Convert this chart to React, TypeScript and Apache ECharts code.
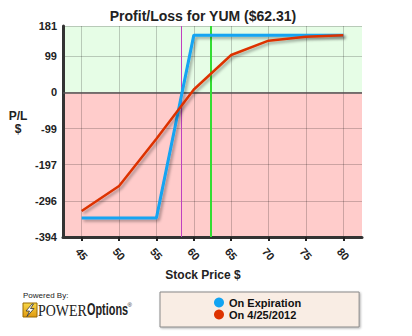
import React, { useEffect, useRef } from "react";
import * as echarts from "echarts";

const strikes = [45, 50, 55, 60, 65, 70, 75, 80];
const expirationPL = [-342, -342, -342, 156, 156, 156, 156, 156];
const todayPL = [-323, -255, -126, 8, 102, 141, 152, 156];
const xTicks = [45, 50, 55, 60, 65, 70, 75, 80];
const yTicks = [-394, -296, -197, -99, 0, 99, 181];
const breakevenLine = 58.3;
const currentPriceLine = 62.2;
const seriesNames = ["On Expiration", "On 4/25/2012"];

const FONT = "'Liberation Sans', Arial, sans-serif";

export default function App() {
  const ref = useRef<HTMLDivElement>(null);
  useEffect(() => {
    if (!ref.current) return;
    const chart = echarts.init(ref.current, undefined, { renderer: "svg" });
    const shadow = {
      shadowColor: "rgba(0,0,0,0.35)",
      shadowBlur: 3,
      shadowOffsetX: 2,
      shadowOffsetY: 2,
    };
    chart.setOption({
      animation: false,
      textStyle: { fontFamily: FONT },
      grid: { left: 63, right: 50, top: 26, bottom: 99, containLabel: false },
      xAxis: {
        type: "value",
        min: 42.5,
        max: 82.5,
        z: 3,
        axisLine: { show: true, onZero: false, lineStyle: { color: "#333", width: 3 } },
        axisTick: {
          show: true,
          customValues: xTicks,
          length: 4,
          lineStyle: { color: "#222", width: 2 },
        },
        axisLabel: {
          customValues: xTicks,
          rotate: -50,
          align: "center",
          verticalAlign: "middle",
          margin: 17,
          fontSize: 11,
          fontWeight: "bold",
          color: "#222",
          fontFamily: FONT,
        },
        splitLine: { show: true, lineStyle: { color: "rgba(0,0,0,0.2)", width: 1 } },
      },
      yAxis: {
        type: "value",
        min: -394,
        max: 181,
        z: 3,
        axisLine: { show: true, onZero: false, lineStyle: { color: "#333", width: 3 } },
        axisTick: { show: false, customValues: yTicks },
        axisLabel: {
          customValues: yTicks,
          margin: 6,
          fontSize: 11,
          fontWeight: "bold",
          color: "#222",
          fontFamily: FONT,
          formatter: (v: number) => String(v),
        },
        splitLine: { show: true, lineStyle: { color: "rgba(0,0,0,0.2)", width: 1 } },
      },
      legend: {
        data: seriesNames,
        orient: "vertical",
        left: 160,
        top: 292,
        padding: [5, 58, 7, 54],
        itemWidth: 10,
        itemHeight: 10,
        itemGap: 1,
        icon: "circle",
        backgroundColor: "#f9ede4",
        borderColor: "#888",
        borderWidth: 1,
        shadowColor: "rgba(0,0,0,0.3)",
        shadowBlur: 2,
        shadowOffsetX: 1,
        shadowOffsetY: 1,
        textStyle: {
          fontSize: 11,
          fontWeight: "bold",
          color: "#111",
          fontFamily: FONT,
          lineHeight: 11,
        },
      },
      series: [
        {
          name: "bands",
          type: "line",
          z: 0,
          data: [],
          silent: true,
          markArea: {
            silent: true,
            z: 0,
            data: [
              [{ yAxis: 0, itemStyle: { color: "#e6fde6" } }, { yAxis: 181 }],
              [{ yAxis: -394, itemStyle: { color: "#ffcccb" } }, { yAxis: 0 }],
            ],
          },
          markLine: {
            silent: true,
            symbol: "none",
            z: 4,
            label: { show: false },
            lineStyle: { color: "#555", width: 1.5, type: "solid" },
            data: [{ yAxis: 0 }],
          },
        },
        {
          name: seriesNames[0],
          type: "line",
          z: 5,
          data: strikes.map((s, i) => [s, expirationPL[i]]),
          showSymbol: false,
          color: "#12a4f2",
          lineStyle: { color: "#12a4f2", width: 3, ...shadow },
          markLine: {
            silent: true,
            symbol: "none",
            z: 4,
            label: { show: false },
            data: [
              { xAxis: breakevenLine, lineStyle: { color: "#c040c0", width: 1, type: "solid" } },
              { xAxis: currentPriceLine, lineStyle: { color: "#33dd33", width: 2, type: "solid" } },
            ],
          },
        },
        {
          name: seriesNames[1],
          type: "line",
          z: 6,
          data: strikes.map((s, i) => [s, todayPL[i]]),
          showSymbol: false,
          color: "#dd3300",
          lineStyle: { color: "#dd3300", width: 2.5, ...shadow },
        },
      ],
      graphic: [
        {
          type: "text",
          x: 203,
          y: 16,
          style: {
            text: "Profit/Loss for YUM ($62.31)",
            font: `bold 14px ${FONT}`,
            fill: "#222",
            textAlign: "center",
            textVerticalAlign: "middle",
          },
        },
        {
          type: "text",
          x: 18,
          y: 122,
          style: {
            text: "P/L\n$",
            font: `bold 12px ${FONT}`,
            fill: "#222",
            textAlign: "center",
            textVerticalAlign: "middle",
            lineHeight: 13,
          },
        },
        {
          type: "text",
          x: 203,
          y: 275,
          style: {
            text: "Stock Price $",
            font: `bold 12px ${FONT}`,
            fill: "#222",
            textAlign: "center",
            textVerticalAlign: "middle",
          },
        },
        {
          type: "text",
          x: 23,
          y: 295,
          style: {
            text: "Powered By:",
            font: `8px ${FONT}`,
            fill: "#222",
            textVerticalAlign: "middle",
          },
        },
        {
          type: "rect",
          shape: { x: 23, y: 303, width: 14, height: 14 },
          style: {
            fill: new echarts.graphic.LinearGradient(0, 0, 0, 1, [
              { offset: 0, color: "#f8d848" },
              { offset: 1, color: "#e09a10" },
            ]),
            stroke: "#9a6a00",
            lineWidth: 1,
          },
        },
        {
          type: "polygon",
          shape: {
            points: [
              [32, 304],
              [26, 311],
              [29.5, 311],
              [27, 316.5],
              [34, 308.5],
              [30.5, 308.5],
              [33.5, 304],
            ],
          },
          style: { fill: "#fff", stroke: "#333", lineWidth: 0.8 },
        },
        {
          type: "text",
          x: 38,
          y: 310,
          scaleX: 0.82,
          style: {
            text: "POWER",
            font: `17px 'Liberation Serif', 'Times New Roman', serif`,
            fill: "#222",
            textVerticalAlign: "middle",
          },
        },
        {
          type: "text",
          x: 87,
          y: 310,
          scaleX: 0.68,
          style: {
            text: "Options",
            font: `bold 16px ${FONT}`,
            fill: "#222",
            textVerticalAlign: "middle",
          },
        },
        {
          type: "text",
          x: 127.5,
          y: 305,
          style: {
            text: "®",
            font: `6px ${FONT}`,
            fill: "#222",
            textVerticalAlign: "middle",
          },
        },
      ],
    });
    return () => chart.dispose();
  }, []);
  return <div ref={ref} style={{ width: 412, height: 336, marginLeft: -8, marginTop: -8 }} />;
}
